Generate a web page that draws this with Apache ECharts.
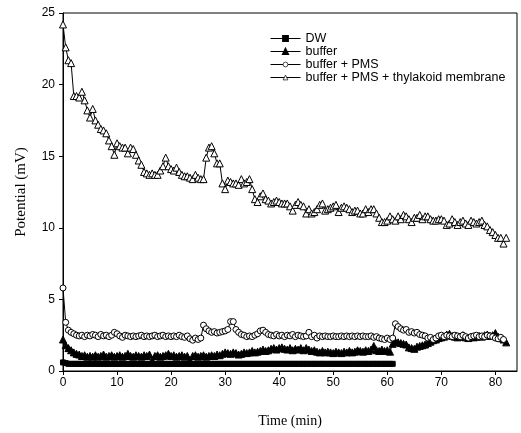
<!DOCTYPE html>
<html>
<head>
<meta charset="utf-8">
<script src="https://cdn.jsdelivr.net/npm/echarts@6/dist/echarts.min.js"></script>
<style>
  html, body { margin: 0; padding: 0; background: #fff; }
  #chart { width: 521px; height: 433px; }
</style>
</head>
<body>
<div id="chart"></div>
<script>
// readings are taken every half minute
const timeStep = 0.5;
const seriesNames = ["DW", "buffer", "buffer + PMS", "buffer + PMS + thylakoid membrane"];
const xTicks = [0, 10, 20, 30, 40, 50, 60, 70, 80];
const yTicks = [0, 5, 10, 15, 20, 25];

const dwValues = [
  0.6, 0.55, 0.5, 0.5, 0.5, 0.5, 0.5, 0.5, 0.5, 0.5,
  0.5, 0.5, 0.5, 0.5, 0.5, 0.5, 0.5, 0.5, 0.5, 0.5,
  0.5, 0.5, 0.5, 0.5, 0.5, 0.5, 0.5, 0.5, 0.5, 0.5,
  0.5, 0.5, 0.5, 0.5, 0.5, 0.5, 0.5, 0.5, 0.5, 0.5,
  0.5, 0.5, 0.5, 0.5, 0.5, 0.5, 0.5, 0.5, 0.5, 0.5,
  0.5, 0.5, 0.5, 0.5, 0.5, 0.5, 0.5, 0.5, 0.5, 0.5,
  0.5, 0.5, 0.5, 0.5, 0.5, 0.5, 0.5, 0.5, 0.5, 0.5,
  0.5, 0.5, 0.5, 0.5, 0.5, 0.5, 0.5, 0.5, 0.5, 0.5,
  0.5, 0.5, 0.5, 0.5, 0.5, 0.5, 0.5, 0.5, 0.5, 0.5,
  0.5, 0.5, 0.5, 0.5, 0.5, 0.5, 0.5, 0.5, 0.5, 0.5,
  0.5, 0.5, 0.5, 0.5, 0.5, 0.5, 0.5, 0.5, 0.5, 0.5,
  0.5, 0.5, 0.5, 0.5, 0.5, 0.5, 0.5, 0.5, 0.5, 0.5,
  0.5, 0.5, 0.5
];

const bufferValues = [
  2.2, 1.8, 1.6, 1.45, 1.3, 1.2, 1.15, 1.05, 1.1, 1.0,
  1.05, 1.0, 1.1, 1.0, 1.05, 1.15, 1.0, 1.05, 1.1, 1.0,
  1.05, 1.1, 1.0, 1.05, 1.2, 1.05, 1.0, 1.1, 1.05, 1.0,
  1.1, 1.05, 1.15, 0.75, 1.05, 1.1, 1.0, 1.05, 1.1, 1.2,
  1.05, 1.1, 1.0, 1.05, 1.1, 1.0, 1.05, 0.75, 1.05, 1.1,
  1.0, 1.05, 1.1, 1.0, 1.05, 1.1, 1.05, 1.15, 1.1, 1.2,
  1.3, 1.25, 1.2, 1.3, 1.25, 1.15, 1.2, 1.3, 1.25, 1.3,
  1.4, 1.3, 1.35, 1.4, 1.5, 1.4, 1.45, 1.55, 1.6, 1.5,
  1.6, 1.65, 1.55, 1.5, 1.6, 1.45, 1.55, 1.5, 1.6, 1.45,
  1.6, 1.5, 1.4, 1.45, 1.35, 1.3, 1.4, 1.3, 1.35, 1.3,
  1.25, 1.35, 1.3, 1.25, 1.35, 1.3, 1.4, 1.3, 1.35, 1.45,
  1.4, 1.35, 1.45, 1.4, 1.5, 1.75, 1.45, 1.4, 1.5, 1.4,
  1.45, 1.35, 1.9, 2.05, 2.0, 1.95, 1.9, 1.85, 1.65, 1.6,
  1.55, 1.7, 1.75, 1.8, 1.85, 1.95, 2.05, 2.15, 2.2, 2.3,
  2.35, 2.4, 2.55, 2.6, 2.45, 2.4, 2.35, 2.4, 2.5, 2.35,
  2.3, 2.4, 2.35, 2.4, 2.45, 2.4, 2.5, 2.55, 2.45, 2.5,
  2.65, 2.4, 2.3, 2.2, 2.0
];

const pmsValues = [
  5.8, 3.4, 2.85, 2.7, 2.6, 2.5, 2.45, 2.5, 2.4, 2.5,
  2.45, 2.55, 2.5, 2.4, 2.55, 2.45, 2.5, 2.4, 2.5, 2.7,
  2.6, 2.45, 2.35, 2.5, 2.45, 2.4, 2.45, 2.4, 2.45, 2.5,
  2.4, 2.45, 2.4, 2.45, 2.5, 2.4, 2.45, 2.5, 2.4, 2.45,
  2.4, 2.45, 2.4, 2.5, 2.4, 2.35, 2.45, 2.25, 2.15, 2.3,
  2.2, 2.3, 3.2, 2.95, 2.8, 2.7, 2.75, 2.65, 2.7, 2.75,
  2.8, 2.9, 3.45, 3.45, 2.9, 2.7, 2.55, 2.5, 2.4, 2.45,
  2.4, 2.5, 2.6, 2.8, 2.85, 2.7, 2.55, 2.5, 2.45, 2.55,
  2.45, 2.5, 2.4, 2.5, 2.45, 2.55, 2.4, 2.5, 2.45, 2.4,
  2.45, 2.7, 2.4, 2.5, 2.3, 2.45, 2.4, 2.45, 2.4, 2.4,
  2.45, 2.4, 2.4, 2.45, 2.4, 2.45, 2.4, 2.45, 2.4, 2.45,
  2.4, 2.45, 2.4, 2.4, 2.45, 2.35, 2.4, 2.3, 2.25, 2.2,
  2.3, 2.2, 2.3, 3.3, 3.1, 2.95, 2.85, 2.9, 2.7, 2.75,
  2.65, 2.7, 2.55, 2.5, 2.45, 2.3, 2.35, 2.2, 2.3, 2.45,
  2.5, 2.4, 2.5, 2.45, 2.4, 2.5, 2.45, 2.4, 2.5, 2.4,
  2.3, 2.4, 2.45, 2.5, 2.4, 2.45, 2.4, 2.5, 2.45, 2.4,
  2.3, 2.25, 2.35, 2.2
];

const thylakoidValues = [
  24.2, 22.6, 21.7, 21.5, 19.2, 19.2, 19.1, 19.5, 18.9, 18.2,
  17.7, 18.3, 17.5, 17.2, 16.9, 16.8, 16.6, 16.1, 15.7, 15.1,
  15.9, 15.7, 15.6, 15.6, 15.2, 15.6, 15.5, 15.1, 14.7, 14.4,
  13.9, 13.8, 13.7, 13.8, 13.7, 13.7, 14.0, 14.3, 14.9, 14.3,
  14.1, 14.0, 14.2, 13.9, 13.7, 13.6, 13.6, 13.5, 13.4, 13.7,
  13.5, 13.4, 13.4, 14.9, 15.6, 15.7, 15.2, 14.5, 14.5, 13.1,
  12.7,
  13.3, 13.2, 13.1, 13.1, 13.0, 13.4, 13.1, 13.2, 13.4, 12.7,
  12.0, 11.8, 12.2, 12.4, 12.0, 11.9, 11.7, 11.8, 11.9, 11.8,
  11.7, 11.7, 11.7, 11.5, 11.2, 11.6, 11.8, 11.6, 11.5, 11.0,
  11.3, 11.0, 11.1, 11.3, 11.6, 11.7, 11.2, 11.3, 11.4, 11.5,
  11.6, 11.1, 11.4, 11.5, 11.4, 11.3, 11.1, 11.2, 11.2, 11.0,
  11.0, 11.3, 11.1, 11.3, 11.3, 11.0, 10.7, 10.4, 10.4, 10.5,
  10.8, 10.6, 10.5, 10.8, 10.6, 10.9, 10.8, 10.6, 10.4, 10.7,
  10.7, 10.9, 10.6, 10.8, 10.8, 10.6, 10.5, 10.5, 10.6, 10.6,
  10.5, 10.2, 10.3, 10.6, 10.4, 10.2, 10.4, 10.5, 10.3, 10.2,
  10.5, 10.4, 10.3, 10.4, 10.5, 10.2, 10.1, 9.85, 9.7, 9.5,
  9.3, 9.3, 8.9, 9.3
];

// pair each reading with its time
function toPoints(values) {
  return values.map((v, i) => [i * timeStep, v]);
}

const chart = echarts.init(document.getElementById("chart"));

const sansFont = "Liberation Sans, Arial, sans-serif";
const serifFont = "Liberation Serif, Times New Roman, serif";

function lineSeries(name, values, symbol, size, filled) {
  return {
    name: name,
    type: "line",
    data: toPoints(values),
    symbol: symbol,
    symbolSize: size,
    showAllSymbol: true,
    animation: false,
    lineStyle: { color: "#000", width: 1 },
    itemStyle: {
      color: filled ? "#000" : "#fff",
      borderColor: "#000",
      borderWidth: 1
    }
  };
}

// small legend markers: keep the open ones open
const legendItems = [
  { name: seriesNames[0] },
  { name: seriesNames[1] },
  { name: seriesNames[2], itemStyle: { borderWidth: 0.7 } },
  { name: seriesNames[3], itemStyle: { borderWidth: 0.7 } }
];

const option = {
  backgroundColor: "#fff",
  animation: false,
  grid: {
    left: 63,
    right: 4,
    top: 13,
    bottom: 62,
    show: true,
    borderColor: "#000",
    borderWidth: 1,
    backgroundColor: "transparent"
  },
  legend: {
    orient: "vertical",
    left: 265,
    top: 27,
    itemWidth: 30,
    itemHeight: 6,
    itemGap: 0,
    data: legendItems,
    lineStyle: { width: 1 },
    textStyle: {
      color: "#000",
      fontFamily: sansFont,
      fontSize: 12.5,
      lineHeight: 13
    }
  },
  xAxis: {
    type: "value",
    min: 0,
    max: 84,
    interval: 10,
    name: "Time (min)",
    nameLocation: "middle",
    nameGap: 43,
    nameTextStyle: { color: "#000", fontFamily: serifFont, fontSize: 14 },
    axisLine: { show: true, lineStyle: { color: "#000", width: 1 } },
    axisTick: { show: true, length: 4, lineStyle: { color: "#000" } },
    axisLabel: {
      color: "#000",
      fontFamily: sansFont,
      fontSize: 12,
      margin: 6,
      showMaxLabel: false,
      formatter: v => (xTicks.includes(v) ? String(v) : "")
    },
    splitLine: { show: false }
  },
  yAxis: {
    type: "value",
    min: 0,
    max: 25,
    interval: 5,
    name: "Potential (mV)",
    nameLocation: "middle",
    nameGap: 34,
    nameTextStyle: { color: "#000", fontFamily: serifFont, fontSize: 15 },
    axisLine: { show: true, lineStyle: { color: "#000", width: 1 } },
    axisTick: { show: true, length: 4, lineStyle: { color: "#000" } },
    axisLabel: {
      color: "#000",
      fontFamily: sansFont,
      fontSize: 12,
      margin: 8,
      formatter: v => (yTicks.includes(v) ? String(v) : "")
    },
    splitLine: { show: false }
  },
  series: [
    lineSeries(seriesNames[0], dwValues, "rect", 5, true),
    lineSeries(seriesNames[1], bufferValues, "triangle", 7, true),
    lineSeries(seriesNames[2], pmsValues, "circle", 6, false),
    lineSeries(seriesNames[3], thylakoidValues, "triangle", 7, false)
  ]
};

chart.setOption(option);
</script>
</body>
</html>
